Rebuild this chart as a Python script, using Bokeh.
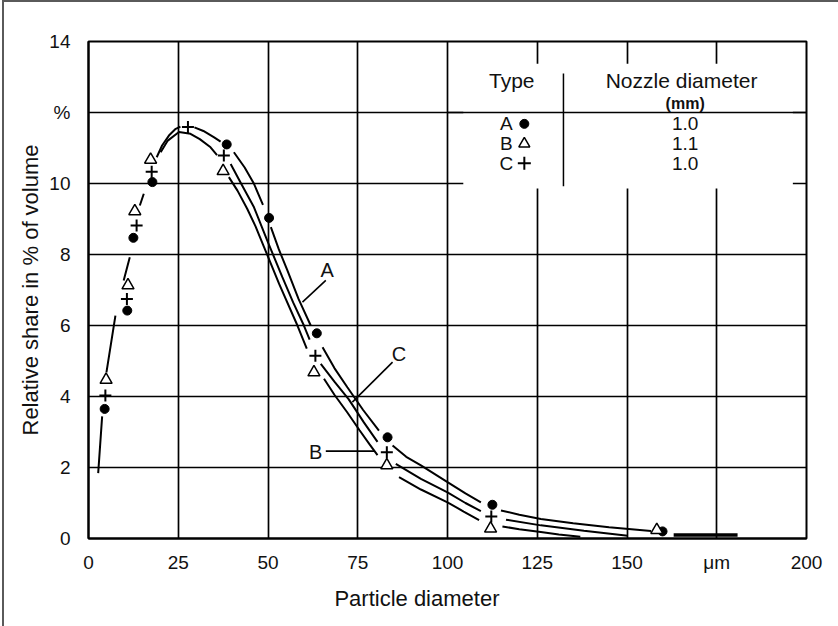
from bokeh.plotting import figure
from bokeh.models import FixedTicker, Range1d
from bokeh.layouts import column
from bokeh.embed import file_html
from bokeh.resources import INLINE
from bokeh.core.properties import value

FONT = "Liberation Sans"
nan = float("nan")

# Axis ticks
x_ticks = [0, 25, 50, 75, 100, 125, 150, 175, 200]
y_ticks = [0, 2, 4, 6, 8, 10, 12, 14]
x_tick_overrides = {175: "\u03bcm"}
y_tick_overrides = {12: "%"}

# Measured points (particle diameter in µm, relative share in % of volume)
a_x = [4.5, 10.8, 12.5, 17.8, 38.5, 50.3, 63.6, 83.3, 112.5, 159.9]
a_y = [3.65, 6.42, 8.47, 10.04, 11.1, 9.03, 5.78, 2.85, 0.95, 0.2]
b_x = [4.9, 11.0, 12.9, 17.3, 37.5, 62.8, 83.1, 112.0, 158.3]
b_y = [4.47, 7.13, 9.22, 10.67, 10.35, 4.68, 2.06, 0.28, 0.24]
c_x = [4.7, 10.7, 13.4, 17.6, 27.7, 37.7, 63.2, 83.1, 112.2]
c_y = [4.03, 6.75, 8.82, 10.33, 11.59, 10.79, 5.15, 2.43, 0.62]

# Fitted distribution curves (breaks where the curve passes a marker)
rise_x = [2.7, 3.8, nan, 5.0, 7.5, nan, 9.8, 11.5, nan, 14.3, 15.4]
rise_y = [1.84, 3.44, nan, 4.68, 6.28, nan, 7.27, 7.92, nan, 9.38, 9.71]

curve_a_x = [19.0, 20.5, 22.4, 24.3, 25.6, nan, 29.5, 32.0, 35.0, 36.8, nan,
             40.5, 43.5, 46.1, 48.6, nan, 50.8, 53.0, 55.4, 58.5, 61.9, nan,
             65.2, 68.5, 72.1, 76.5, 80.9, nan, 84.7, 88.5, 92.6, 100, 105, 109.3, nan,
             114.9, 120, 126, 135, 145, 156.7]
curve_a_y = [10.74, 11.07, 11.35, 11.54, 11.6, nan, 11.58, 11.48, 11.3, 11.18, nan,
             10.88, 10.45, 9.99, 9.4, nan, 8.77, 8.15, 7.55, 6.75, 6.0, nan,
             5.39, 4.8, 4.26, 3.62, 3.04, nan, 2.62, 2.3, 2.06, 1.59, 1.27, 1.02, nan,
             0.79, 0.67, 0.55, 0.43, 0.32, 0.21]

curve_b_x = [20.1, 22.0, 25.2, 28.4, 31.0, 34.0, 35.8, nan,
             39.1, 41.5, 44.2, 46.5, 48.9, 53.1, 58.2, 60.8, nan,
             65.6, 68.5, 72.1, 75.5, 78.3, 80.5, nan,
             86.5, 92.6, 100, 104.5, 108.8, nan,
             115.3, 120, 126, 131, 137]
curve_b_y = [10.88, 11.2, 11.45, 11.4, 11.25, 11.02, 10.8, nan,
             10.18, 9.8, 9.29, 8.8, 8.21, 7.17, 6.0, 5.35, nan,
             4.5, 4.05, 3.55, 3.05, 2.65, 2.35, nan,
             1.73, 1.38, 1.02, 0.76, 0.52, nan,
             0.34, 0.26, 0.18, 0.11, 0.05]

curve_c_x = [39.6, 42.5, 46.1, 49.8, 54.0, 57.0, 60.0, 61.6, nan,
             64.7, 68.5, 72.5, 76.7, 80.5, nan,
             85.6, 92.6, 100, 105, 109.3, nan,
             116.3, 126, 138, 150.2]
curve_c_y = [10.55, 10.0, 9.33, 8.39, 7.36, 6.65, 6.0, 5.6, nan,
             4.92, 4.42, 3.92, 3.27, 2.72, nan,
             2.1, 1.68, 1.3, 1.0, 0.77, nan,
             0.53, 0.37, 0.22, 0.08]

tail_x = [163, 180.8]
tail_y = [0.1, 0.1]

# Curve labels and their leader lines
curve_labels = ["A", "C", "B"]
label_x = [66.5, 86.5, 63.3]
label_y = [7.55, 5.2, 2.43]
leader_x0 = [66.1, 84.7, 66.1]
leader_y0 = [7.27, 4.97, 2.46]
leader_x1 = [59.6, 73.5, 79.8]
leader_y1 = [6.66, 3.84, 2.46]

# Key table
table_types = ["A", "B", "C"]
table_diameters = ["1.0", "1.1", "1.0"]
table_row_y = [11.68, 11.12, 10.57]

p = figure(width=834, height=624, output_backend="svg", toolbar_location=None,
           x_range=Range1d(0, 200), y_range=Range1d(0, 14),
           min_border_left=84, min_border_right=32, min_border_top=39, min_border_bottom=88,
           background_fill_color="white", border_fill_color="white")

p.outline_line_color = "black"
p.outline_line_width = 2

for ax in (p.xaxis[0], p.yaxis[0]):
    ax.axis_line_color = "black"
    ax.axis_line_width = 2
    ax.major_tick_line_color = None
    ax.minor_tick_line_color = None
    ax.major_label_text_font = FONT
    ax.major_label_text_font_size = "19px"
    ax.major_label_text_color = "#111111"
    ax.axis_label_text_font = FONT
    ax.axis_label_text_font_size = "22px"
    ax.axis_label_text_font_style = "normal"
    ax.axis_label_text_color = "#111111"

p.xaxis.ticker = FixedTicker(ticks=x_ticks)
p.yaxis.ticker = FixedTicker(ticks=y_ticks)
p.xaxis.major_label_overrides = x_tick_overrides
p.yaxis.major_label_overrides = y_tick_overrides
# trailing no-break spaces move the x title left of the frame centre
p.xaxis.axis_label = "Particle diameter" + "\u00a0" * 10
p.yaxis.axis_label = "Relative share in % of volume"
p.xaxis.major_label_standoff = 7
p.yaxis.major_label_standoff = 12
p.xaxis.axis_label_standoff = 10
p.yaxis.axis_label_standoff = 3

p.xgrid.ticker = FixedTicker(ticks=x_ticks)
p.ygrid.ticker = FixedTicker(ticks=y_ticks)
for g in (p.xgrid[0], p.ygrid[0]):
    g.grid_line_color = "black"
    g.grid_line_width = 1.7

# Key table panel
p.quad(left=104.4, right=196.2, bottom=9.86, top=13.37, fill_color="white", line_color=None)
p.segment(x0=[100], y0=[12], x1=[200], y1=[12], line_color="black", line_width=1.7)
p.segment(x0=[132.3], y0=[9.92], x1=[132.3], y1=[13.1], line_color="black", line_width=1.5)
p.text(x=[117.9, 165.2], y=[12.9, 12.9], text=["Type", "Nozzle diameter"],
       text_font=value(FONT), text_font_size="21px", text_color="#111111",
       text_align="center", text_baseline="middle")
p.text(x=[166.2], y=[12.25], text=["(mm)"], text_font=value(FONT), text_font_size="16px",
       text_font_style="bold", text_color="#111111", text_align="center", text_baseline="middle")
p.text(x=[166.2] * 3, y=table_row_y, text=table_diameters, text_font=value(FONT),
       text_font_size="19px", text_color="#111111", text_align="center", text_baseline="middle")
p.text(x=[116.4] * 3, y=table_row_y, text=table_types, text_font=value(FONT),
       text_font_size="19px", text_color="#111111", text_align="center", text_baseline="middle")
p.scatter(x=[121.4], y=[table_row_y[0]], marker="circle", size=9, fill_color="black", line_color="black")
p.scatter(x=[121.4], y=[table_row_y[1]], marker="triangle", size=11, fill_color="white",
          line_color="black", line_width=1.5)
p.scatter(x=[121.4], y=[table_row_y[2]], marker="cross", size=13, line_color="black", line_width=2)

# Distribution curves
line_kw = dict(line_color="black", line_width=2)
p.line(rise_x, rise_y, **line_kw)
p.line(curve_a_x, curve_a_y, **line_kw)
p.line(curve_b_x, curve_b_y, **line_kw)
p.line(curve_c_x, curve_c_y, **line_kw)
p.line(tail_x, tail_y, line_color="black", line_width=3.5)

# Leader lines and curve names
p.segment(x0=leader_x0, y0=leader_y0, x1=leader_x1, y1=leader_y1, line_color="black", line_width=1.6)
p.text(x=label_x, y=label_y, text=curve_labels, text_font=value(FONT), text_font_size="20px",
       text_color="#111111", text_align="center", text_baseline="middle")

# Measured points
p.scatter(a_x, a_y, marker="circle", size=9, fill_color="black", line_color="black")
p.scatter(b_x, b_y, marker="triangle", size=12, fill_color="white", line_color="black", line_width=1.5)
p.scatter(c_x, c_y, marker="cross", size=12, line_color="black", line_width=2)

layout = column(p, styles={"margin-left": "2px",
                           "border-left": "2px solid #5a5a5a",
                           "border-top": "2px solid #5a5a5a"})

with open("out.html", "w") as f:
    f.write(file_html(layout, INLINE))
